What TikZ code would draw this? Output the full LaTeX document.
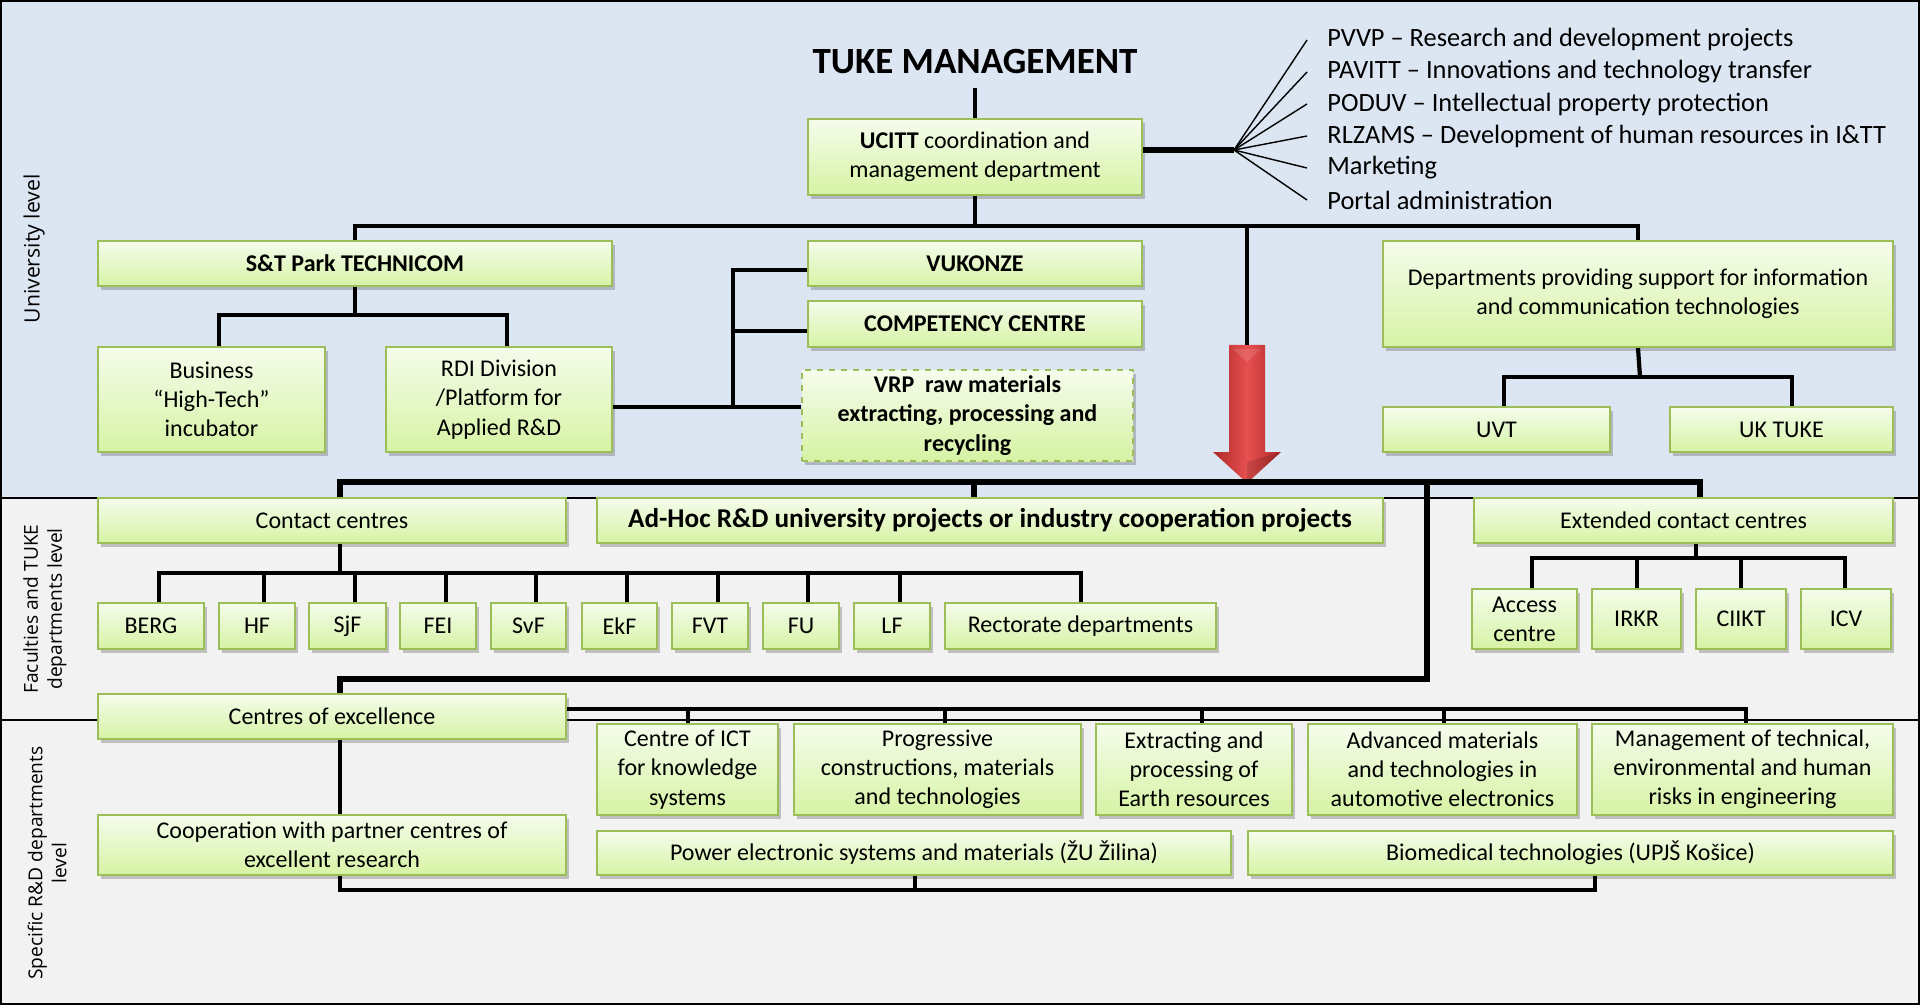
\documentclass[tikz,border=0pt]{standalone}
\usepackage{fontspec}
\setmainfont{Carlito}
\newfontfamily\labfont{Open Sans}
\usetikzlibrary{shadows,calc}
\definecolor{bdr}{RGB}{155,190,89}
\definecolor{topc}{RGB}{245,252,236}
\definecolor{botc}{RGB}{214,243,164}
\definecolor{univ}{RGB}{220,230,242}
\definecolor{facg}{RGB}{242,242,242}
\definecolor{arrmid}{RGB}{230,80,80}
\definecolor{arredge}{RGB}{175,40,40}
\tikzset{
  box/.style={draw=bdr,line width=1.1pt,top color=topc,bottom color=botc,align=center,inner sep=1pt,
    font=\fontsize{12}{14.6}\selectfont,
    drop shadow={shadow xshift=1.6pt,shadow yshift=-2pt,opacity=0.3,fill=black!70}},
  conn/.style={line width=2.1pt,black,line join=miter},
  connT/.style={line width=2.7pt,black,line join=miter},
  connB/.style={line width=1.7pt,black,line join=miter},
  fanl/.style={line width=0.7pt,black},
  lst/.style={anchor=west,inner sep=0pt,font=\fontsize{13.2}{15}\selectfont},
  side/.style={rotate=90,align=center,inner sep=0pt,font=\labfont\fontsize{9.6}{12}\selectfont},
  band/.style={draw=black,line width=0.9pt}
}
\newcommand\bx[7][]{%
  \pgfmathsetmacro\bxw{(#5-#3)*0.5}\pgfmathsetmacro\bxh{(#6-#4)*0.5}%
  \node[box,minimum width=\bxw pt,minimum height=\bxh pt,#1] (#2) at ({(#3+#5)/2},{(#4+#6)/2}) {#7};}
\begin{document}
\begin{tikzpicture}[x=0.5pt,y=-0.5pt]
\useasboundingbox (0,0) rectangle (1920,1005);
% bands
\fill[univ] (0,0) rectangle (1920,498);
\fill[facg] (0,498) rectangle (1920,1005);
\draw[band] (0,498) -- (1920,498);
\draw[band] (0,720) -- (1920,720);
\draw[band] (1,1) rectangle (1919,1004);
% side labels
\node[side,font=\labfont\fontsize{10.6}{12}\selectfont] (lu) at (34,249) {University level};
\node[side] (lf) at (45,609) {Faculties and TUKE\\departments level};
\node[side] (ls) at (47,863) {Specific R\&D departments\\level};
% title
\node[font=\bfseries\fontsize{18.5}{20}\selectfont,inner sep=0pt] (tm) at (975,62) {TUKE MANAGEMENT};
% university level boxes
\bx{uc}{808}{119}{1142}{195}{\textbf{UCITT} coordination and\\management department}
\bx[font=\bfseries\fontsize{12}{14.6}\selectfont]{st}{98}{241}{612}{286}{S\&T Park TECHNICOM}
\bx{biz}{98}{347}{325}{452}{Business\\“High-Tech”\\incubator}
\bx{rdi}{386}{347}{612}{452}{RDI Division\\/Platform for\\Applied R\&D}
\bx[font=\bfseries\fontsize{12}{14.6}\selectfont]{vu}{808}{241}{1142}{286}{VUKONZE}
\bx[font=\bfseries\fontsize{12}{14.6}\selectfont]{cc}{808}{301}{1142}{347}{COMPETENCY CENTRE}
\bx[dashed,font=\bfseries\fontsize{12}{14.6}\selectfont]{vrp}{802}{370}{1133}{461}{VRP\ \ raw materials\\extracting, processing and\\recycling}
\bx{dep}{1383}{241}{1893}{347}{Departments providing support for information\\and communication technologies}
\bx{uvt}{1383}{407}{1610}{452}{UVT}
\bx{uk}{1670}{407}{1893}{452}{UK TUKE}
% list
\node[lst] (l1) at (1327,40) {PVVP – Research and development projects};
\node[lst] (l2) at (1327,72) {PAVITT – Innovations and technology transfer};
\node[lst] (l3) at (1327,104) {PODUV – Intellectual property protection};
\node[lst] (l4) at (1327,136) {RLZAMS – Development of human resources in I\&TT};
\node[lst] (l5) at (1327,168) {Marketing};
\node[lst] (l6) at (1327,200) {Portal administration};
% faculties level
\bx{con}{98}{498}{566}{543}{Contact centres}
\bx[font=\bfseries\fontsize{13.6}{15}\selectfont]{adhoc}{597}{498}{1383}{543}{Ad-Hoc R\&D university projects or industry cooperation projects}
\bx{ext}{1474}{498}{1893}{543}{Extended contact centres}
\bx{berg}{98}{603}{204}{649}{BERG}
\bx{hf}{219}{603}{295}{649}{HF}
\bx{sjf}{309}{603}{386}{649}{SjF}
\bx{fei}{400}{603}{476}{649}{FEI}
\bx{svf}{491}{603}{566}{649}{SvF}
\bx{ekf}{582}{603}{657}{649}{EkF}
\bx{fvt}{672}{603}{748}{649}{FVT}
\bx{fu}{763}{603}{839}{649}{FU}
\bx{lf}{854}{603}{930}{649}{LF}
\bx{rect}{945}{603}{1216}{649}{Rectorate departments}
\bx{acc}{1472}{589}{1577}{649}{Access\\centre}
\bx{irkr}{1592}{589}{1681}{649}{IRKR}
\bx{ciikt}{1696}{589}{1786}{649}{CIIKT}
\bx{icv}{1801}{589}{1891}{649}{ICV}
% specific level
\bx{coe}{98}{694}{566}{739}{Centres of excellence}
\bx{ict}{597}{724}{778}{815}{Centre of ICT\\for knowledge\\systems}
\bx{prog}{794}{724}{1081}{815}{Progressive\\constructions, materials\\and technologies}
\bx{extr}{1096}{724}{1292}{815}{Extracting and\\processing of\\Earth resources}
\bx{adv}{1308}{724}{1577}{815}{Advanced materials\\and technologies in\\automotive electronics}
\bx{mgmt}{1592}{724}{1893}{815}{Management of technical,\\environmental and human\\risks in engineering}
\bx{coop}{98}{815}{566}{875}{Cooperation with partner centres of\\excellent research}
\bx{pow}{597}{831}{1231}{875}{Power electronic systems and materials (ŽU Žilina)}
\bx{bio}{1248}{831}{1893}{875}{Biomedical technologies (UPJŠ Košice)}
% arrow
\shade[left color=arredge,right color=arredge,middle color=arrmid]
  (1229,345) -- (1265,345) -- (1265,452) -- (1281,452) -- (1247,483) -- (1213,452) -- (1229,452) -- cycle;
\fill[white,opacity=0.12] (1233,349) -- (1247,362) -- (1261,349) -- cycle;
\fill[black,opacity=0.12] (1247,483) -- (1247,462) -- (1281,452) -- cycle;
\coordinate (arrtop) at (1247,345);
% ---- connectors ----
\draw[conn] (uc.north) -- ++(0,-30);
\coordinate (tb) at (975,226);
\draw[conn] (uc.south) -- (tb);
\draw[conn] (st.north) |- (tb) -| (dep.north);
\draw[conn] (arrtop) -- (arrtop |- tb);
% S&T subtree
\coordinate (sb) at (355,315);
\coordinate (bizd) at (219,315);
\coordinate (rdid) at (507,315);
\draw[conn] (st.south) -- (sb);
\draw[conn] (bizd |- biz.north) -- (bizd) -- (rdid) -- (rdid |- rdi.north);
% VUKONZE bus
\coordinate (vb1) at (733,270);
\coordinate (vb2) at (733,331);
\coordinate (vb3) at (733,407);
\draw[conn] (vb1 -| vu.west) -- (vb1) -- (vb3);
\draw[conn] (vb2) -- (vb2 -| cc.west);
\draw[conn] (vb3 -| rdi.east) -- (vb3 -| vrp.west);
% fan
\coordinate (fan) at (1234,150);
\draw[connT] ([yshift=3.5pt]uc.east) -- (fan);
\foreach \i in {1,...,6} \draw[fanl] (fan) -- ([xshift=-10pt]l\i.west);
% departments
\coordinate (db) at (1640,377);
\coordinate (uvtd) at (1504,377);
\coordinate (ukd) at (1792,377);
\draw[conn] (dep.south) -- (db);
\draw[conn] (uvtd |- uvt.north) -- (uvtd) -- (ukd) -- (ukd |- uk.north);
% university bottom bus
\coordinate (c1) at (340,482);
\coordinate (c2) at (974,482);
\coordinate (c3) at (1427,482);
\coordinate (c4) at (1700,482);
\draw[connT] (c1 |- con.north) -- (c1) -- (c4) -- (c4 |- ext.north);
\draw[connT] (c2) -- (c2 |- adhoc.north);
\coordinate (lp) at (340,679);
\draw[connT] (c3) |- (lp) -- (lp |- coe.north);
% contact centres
\coordinate (fb) at (340,573);
\draw[conn] (con.south -| fb) -- (fb);
\foreach \n/\xx in {berg/159,hf/264,sjf/355,fei/446,svf/536,ekf/627,fvt/718,fu/808,lf/900,rect/1081}
  \coordinate (t\n) at (\xx,573);
\draw[conn] (tberg |- berg.north) -- (tberg) -- (trect) -- (trect |- rect.north);
\foreach \n in {hf,sjf,fei,svf,ekf,fvt,fu,lf} \draw[conn] (t\n) -- (t\n |- \n.north);
% extended contact centres
\coordinate (eb) at (1696,558);
\draw[conn] (ext.south -| eb) -- (eb);
\foreach \n/\xx in {acc/1532,irkr/1637,ciikt/1741,icv/1845} \coordinate (t\n) at (\xx,558);
\draw[conn] (tacc |- acc.north) -- (tacc) -- (ticv) -- (ticv |- icv.north);
\foreach \n in {irkr,ciikt} \draw[conn] (t\n) -- (t\n |- \n.north);
% centres of excellence bus
\coordinate (cb) at (566,709);
\foreach \n/\xx in {ict/688,prog/945,extr/1202,adv/1444,mgmt/1746} \coordinate (t\n) at (\xx,709);
\draw[conn] (cb -| coe.east) -- (tmgmt) -- (tmgmt |- mgmt.north);
\foreach \n in {ict,prog,extr,adv} \draw[conn] (t\n) -- (t\n |- \n.north);
% coe to cooperation
\coordinate (cx) at (340,760);
\draw[conn] (cx |- coe.south) -- (cx |- coop.north);
% bottom bracket
\coordinate (bb1) at (340,890);
\coordinate (bb2) at (915,890);
\coordinate (bb3) at (1595,890);
\draw[connB] (bb1 |- coop.south) -- (bb1) -- (bb3) -- (bb3 |- bio.south);
\draw[connB] (bb2) -- (bb2 |- pow.south);
\end{tikzpicture}
\end{document}
